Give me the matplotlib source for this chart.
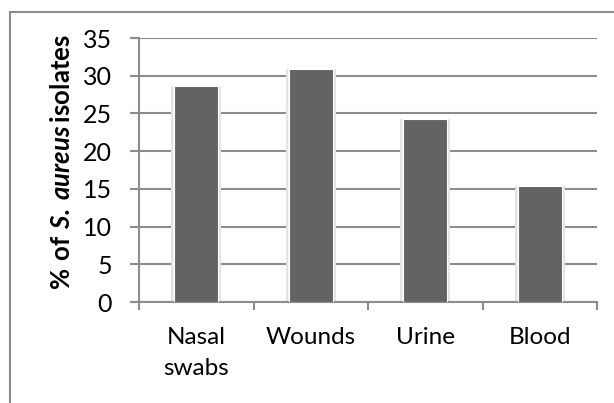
import matplotlib
matplotlib.use("Agg")
import matplotlib.pyplot as plt
from matplotlib.lines import Line2D

# 部位別の S. aureus 分離株の割合 (%)
sources = ["Nasal\nswabs", "Wounds", "Urine", "Blood"]
percent = [28.6, 30.9, 24.2, 15.4]
y_ticks = [0, 5, 10, 15, 20, 25, 30, 35]

plt.rcParams["font.family"] = ["Lato", "DejaVu Sans"]
plt.rcParams["mathtext.fontset"] = "custom"
plt.rcParams["mathtext.rm"] = "Lato"
plt.rcParams["mathtext.bf"] = "Lato:bold"
plt.rcParams["mathtext.bfit"] = "Lato:italic:bold"

GRID = "#8c8c8c"
BAR = "#636363"

fig = plt.figure(figsize=(6.14, 4.03), dpi=100)
ax = fig.add_axes([139 / 614, 1 - 302 / 403, 458 / 614, 264 / 403])

x = list(range(len(sources)))
# 影っぽいぼかし
ax.bar(x, percent, width=0.44, color="#e4e4e4", zorder=2)
ax.bar(x, percent, width=0.40, color="#f4f4f4", zorder=2)
ax.bar(x, percent, width=0.385, color=BAR, edgecolor="white", linewidth=0.8, zorder=3)

ax.set_xlim(-0.5, len(sources) - 0.5)
ax.set_ylim(0, 35)
ax.set_yticks(y_ticks)
ax.yaxis.grid(True, color=GRID, linewidth=1.5, zorder=1)
ax.set_axisbelow(True)

# 区切り目盛りとカテゴリラベル
ax.set_xticks([i - 0.5 for i in range(len(sources) + 1)])
ax.set_xticklabels([])
ax.set_xticks(x, minor=True)
ax.set_xticklabels(sources, minor=True, fontsize=17.5, linespacing=1.6)
ax.tick_params(axis="x", which="major", direction="out", length=6, width=1.5, color=GRID)
ax.tick_params(axis="x", which="minor", length=0, pad=18)
ax.tick_params(axis="y", direction="out", length=6.5, width=1.5, color=GRID,
               labelsize=18, pad=13)

for side in ["top", "right"]:
    ax.spines[side].set_visible(False)
ax.spines["left"].set_color(GRID)
ax.spines["left"].set_linewidth(1.5)
ax.spines["bottom"].set_color(GRID)
ax.spines["bottom"].set_linewidth(1.5)

ax.set_ylabel(r"$\mathbf{\%\ of\ }\mathbfit{S.\,aureus}\mathbf{\,isolates}$", fontsize=18.5)
ax.yaxis.set_label_coords(-0.14, 0.532)

# グラフ枠
fig.add_artist(Line2D([10 / 614, 1], [1 - 12 / 403] * 2, color=GRID, linewidth=1.5,
                      transform=fig.transFigure))
fig.add_artist(Line2D([10 / 614] * 2, [0, 1 - 12 / 403], color=GRID, linewidth=1.5,
                      transform=fig.transFigure))

fig.savefig("out.png", dpi=100)
